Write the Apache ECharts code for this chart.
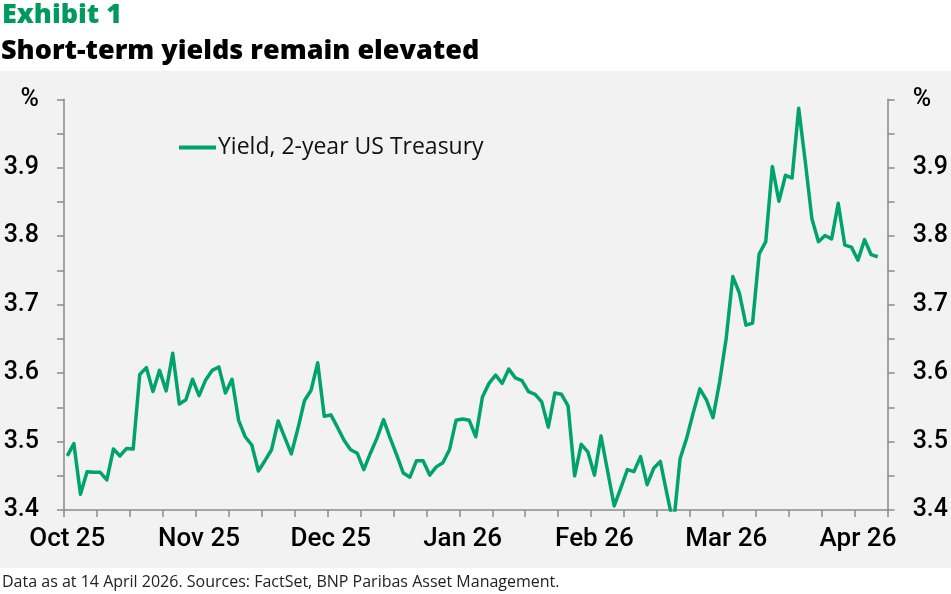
<!DOCTYPE html>
<html>
<head>
<meta charset="utf-8">
<script src="https://cdn.jsdelivr.net/npm/echarts@6/dist/echarts.min.js"></script>
<style>
html,body{margin:0;padding:0;background:#fff;}
#bg{position:absolute;left:0;top:71px;width:951px;height:497px;background:#f2f2f2;}
#chart{position:absolute;left:0;top:0;width:951px;height:594px;}
</style>
</head>
<body>
<div id="bg"></div>
<div id="chart"></div>
<script>
// Month tick labels (one every 20 business days)
const tickLabels = ['Oct 25', 'Nov 25', 'Dec 25', 'Jan 26', 'Feb 26', 'Mar 26', 'Apr 26'];
// Business-day categories on the x axis
const categories = Array.from({length: 125}, (_, i) => 'd' + i);
// 2-year US Treasury yield, %
const yield2y = [
  3.479, 3.497, 3.423, 3.456, 3.455, 3.455, 3.444, 3.489, 3.479, 3.490,
  3.489, 3.598, 3.608, 3.573, 3.604, 3.574, 3.629, 3.555, 3.561, 3.591,
  3.567, 3.590, 3.604, 3.609, 3.571, 3.591, 3.531, 3.507, 3.495, 3.457,
  3.472, 3.488, 3.530, 3.506, 3.482, 3.519, 3.560, 3.575, 3.615, 3.537,
  3.539, 3.521, 3.502, 3.488, 3.483, 3.459, 3.483, 3.505, 3.532, 3.505,
  3.480, 3.454, 3.448, 3.472, 3.472, 3.451, 3.463, 3.469, 3.488, 3.531,
  3.533, 3.531, 3.507, 3.565, 3.585, 3.597, 3.585, 3.606, 3.593, 3.589,
  3.573, 3.569, 3.558, 3.521, 3.571, 3.569, 3.552, 3.450, 3.496, 3.485,
  3.451, 3.508, 3.457, 3.406, 3.432, 3.459, 3.456, 3.478, 3.437, 3.461,
  3.471, 3.424, 3.378, 3.475, 3.505, 3.542, 3.577, 3.561, 3.535, 3.587,
  3.651, 3.741, 3.717, 3.670, 3.673, 3.774, 3.792, 3.902, 3.851, 3.889,
  3.885, 3.987, 3.909, 3.826, 3.792, 3.801, 3.796, 3.848, 3.787, 3.784,
  3.765, 3.795, 3.773, 3.770
];

const FONT = 'Open Sans';
const TICKFONT = 'Roboto';
const axisColor = '#8a8a8a';
const green = '#00a36c';

function yLabel(v) {
  const h = Math.round(v * 100);
  if (h === 400) return '%';
  if (h % 10 !== 0) return '';
  return (h / 100).toFixed(1);
}

function yAxisCfg(pos) {
  return {
    type: 'value',
    position: pos,
    min: 3.4,
    max: 4.0,
    interval: 0.05,
    axisLine: {show: true, lineStyle: {color: axisColor, width: 1.5}},
    axisTick: {show: true, length: 7, lineStyle: {color: axisColor, width: 1.5}},
    splitLine: {show: false},
    axisLabel: {
      formatter: yLabel,
      color: '#000',
      fontFamily: TICKFONT,
      fontWeight: 500,
      fontSize: 25,
      margin: 25
    }
  };
}

const chart = echarts.init(document.getElementById('chart'), null, {renderer: 'canvas'});
chart.setOption({
  animation: false,
  backgroundColor: 'transparent',
  title: [
    {text: 'Exhibit 1', left: 2, top: 2, padding: 0,
     textStyle: {color: '#009a5f', fontFamily: FONT, fontWeight: 800, fontSize: 27}},
    {text: 'Short-term yields remain elevated', left: 1, top: 38, padding: 0,
     textStyle: {color: '#000', fontFamily: FONT, fontWeight: 800, fontSize: 27}},
    {text: 'Data as at 14 April 2026. Sources: FactSet, BNP Paribas Asset Management.', left: 2, top: 574, padding: 0,
     textStyle: {color: '#222', fontFamily: FONT, fontWeight: 'normal', fontSize: 16}}
  ],
  legend: {
    left: 179, top: 136, padding: 0,
    icon: 'rect',
    itemWidth: 37, itemHeight: 4,
    itemGap: 10,
    textStyle: {color: '#111', fontFamily: FONT, fontSize: 23, padding: [0, 0, 0, -3]},
    data: ['Yield, 2-year US Treasury']
  },
  grid: {left: 64, right: 62, top: 99.3, bottom: 84, containLabel: false},
  xAxis: {
    type: 'category',
    data: categories,
    boundaryGap: true,
    axisLine: {show: true, lineStyle: {color: axisColor, width: 1.5}},
    axisTick: {show: true, interval: 4, length: 7, lineStyle: {color: axisColor, width: 1.5}},
    axisLabel: {
      interval: 19,
      formatter: (val, idx) => (idx % 20 === 0 ? (tickLabels[idx / 20] || '') : ''),
      color: '#000',
      fontFamily: TICKFONT,
      fontWeight: 500,
      fontSize: 26,
      margin: 16
    },
    splitLine: {show: false}
  },
  yAxis: [yAxisCfg('left'), yAxisCfg('right')],
  series: [{
    name: 'Yield, 2-year US Treasury',
    type: 'line',
    data: yield2y,
    yAxisIndex: 0,
    showSymbol: false,
    symbol: 'none',
    clip: true,
    lineStyle: {color: green, width: 3.5, join: 'round'},
    itemStyle: {color: green}
  }]
});
</script>
</body>
</html>
